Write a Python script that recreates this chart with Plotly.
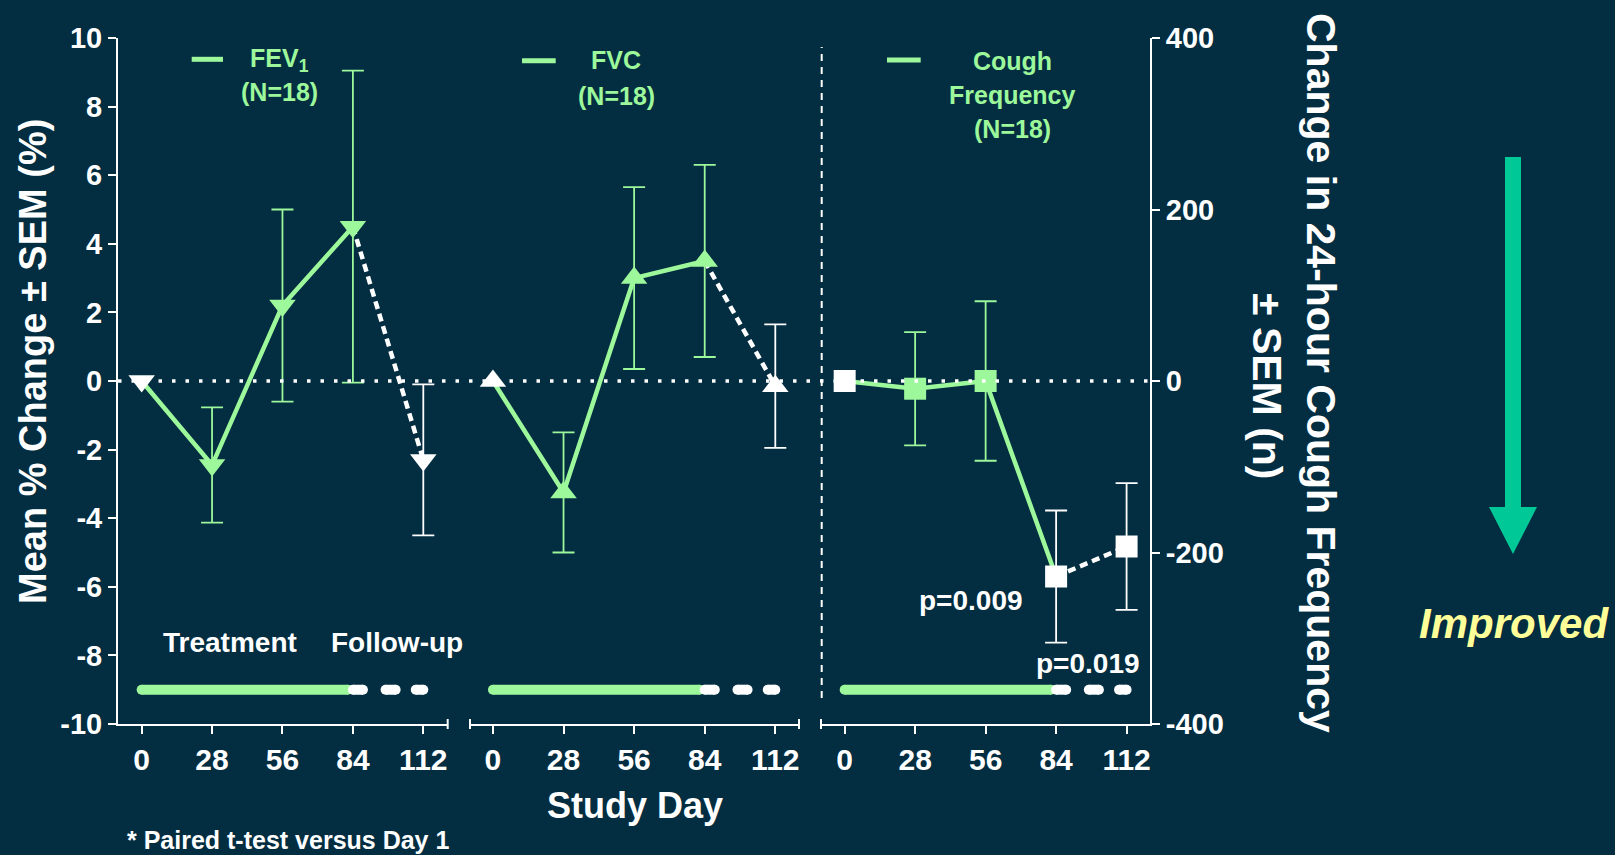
import plotly.graph_objects as go

# Canvas size in pixels (margins are zero, so paper fractions map straight to pixels)
W, H = 1615, 855

# ---- data -------------------------------------------------------------
DAYS = [0, 28, 56, 84, 112]
DAY_TICKS = [0, 28, 56, 84, 112]

FEV1_MEAN = [0.0, -2.45, 2.2, 4.5, -2.3]
FEV1_SEM = [0.0, 1.68, 2.8, 4.55, 2.2]

FVC_MEAN = [0.0, -3.25, 3.0, 3.5, -0.15]
FVC_SEM = [0.0, 1.75, 2.65, 2.8, 1.8]

COUGH_MEAN = [0, -9, 0, -228, -193]
COUGH_SEM = [0, 66, 93, 77, 74]

# days drawn with open (white) markers
FEV1_OPEN_DAYS = [0, 112]
FVC_OPEN_DAYS = [0, 112]
COUGH_OPEN_DAYS = [0, 84, 112]

TREATMENT_END = 84
# study period bar: solid treatment segment and dashed follow-up segments (days)
TREATMENT_BAR = [(0, 82)]
FOLLOWUP_DASHES = [(84, 88), (97, 101), (109, 112)]

PCT_TICKS = [-10, -8, -6, -4, -2, 0, 2, 4, 6, 8, 10]
COUGH_TICKS = [-400, -200, 0, 200, 400]

P_LABELS = ["p=0.009", "p=0.019"]

# ---- styling ----------------------------------------------------------
BG = "#032d40"
GREEN = "#9df89b"
WHITE = "#ffffff"
ARROW = "#00c997"
YELLOW = "#ffff99"
FONT = "Liberation Sans, Arial, sans-serif"


def fx(px):
    return px / W


def fy(py):
    return 1 - py / H


PLOT_TOP, PLOT_BOTTOM = 38, 724
Y_DOMAIN = [fy(PLOT_BOTTOM), fy(PLOT_TOP)]

fig = go.Figure()


def add_series(mean, sem, symbol, open_days, size, xa, ya):
    on = [i for i, d in enumerate(DAYS) if d <= TREATMENT_END]
    off = [i for i, d in enumerate(DAYS) if d >= TREATMENT_END]
    fig.add_trace(go.Scatter(
        x=[DAYS[i] for i in on], y=[mean[i] for i in on], mode="lines",
        line=dict(color=GREEN, width=4.5), xaxis=xa, yaxis=ya, hoverinfo="skip"))
    fig.add_trace(go.Scatter(
        x=[DAYS[i] for i in off], y=[mean[i] for i in off], mode="lines",
        line=dict(color=WHITE, width=4.5, dash="8px,5px"), xaxis=xa, yaxis=ya,
        hoverinfo="skip"))
    for i, d in enumerate(DAYS):
        col = WHITE if d in open_days else GREEN
        err = None
        if sem[i] > 0:
            err = dict(type="data", array=[sem[i]], color=col, thickness=1.8,
                       width=11, visible=True)
        fig.add_trace(go.Scatter(
            x=[d], y=[mean[i]], mode="markers",
            marker=dict(symbol=symbol, size=size, color=col, line=dict(width=0)),
            error_y=err, xaxis=xa, yaxis=ya))


def add_period_bar(yval, xa, ya):
    for seg_list, col in ((TREATMENT_BAR, GREEN), (FOLLOWUP_DASHES, WHITE)):
        xs, ys = [], []
        for a, b in seg_list:
            xs += [a, b, None]
            ys += [yval, yval, None]
        fig.add_trace(go.Scatter(
            x=xs, y=ys, mode="lines+markers",
            line=dict(color=col, width=10),
            marker=dict(symbol="circle", size=10, color=col, line=dict(width=0)),
            xaxis=xa, yaxis=ya, hoverinfo="skip"))


add_period_bar(-9, "x", "y")
add_period_bar(-9, "x2", "y2")
add_period_bar(-360, "x3", "y3")

add_series(FEV1_MEAN, FEV1_SEM, "triangle-down", FEV1_OPEN_DAYS, 23, "x", "y")
add_series(FVC_MEAN, FVC_SEM, "triangle-up", FVC_OPEN_DAYS, 23, "x2", "y2")
add_series(COUGH_MEAN, COUGH_SEM, "square", COUGH_OPEN_DAYS, 22, "x3", "y3")

# ---- axes -------------------------------------------------------------
axis_common = dict(showgrid=False, zeroline=False, showline=True, linecolor=WHITE,
                   linewidth=2, ticks="outside", ticklen=8, tickwidth=2,
                   tickcolor=WHITE, automargin=False)
xtick_font = dict(family=FONT, size=30, color=WHITE, weight="bold")
ytick_font = dict(family=FONT, size=29, color=WHITE, weight="bold")


def xaxis(dom, rng, anchor):
    return dict(domain=[fx(dom[0]), fx(dom[1])], range=rng, anchor=anchor,
                tickmode="array", tickvals=DAY_TICKS,
                ticktext=[str(t) for t in DAY_TICKS], tickfont=xtick_font,
                **axis_common)


fig.update_layout(
    xaxis=xaxis((118, 447.7), [-9.4, 121.7], "y"),
    xaxis2=xaxis((470, 799), [-9.1, 121.4], "y2"),
    xaxis3=xaxis((821, 1150), [-9.4, 121.3], "y3"),
    yaxis=dict(domain=Y_DOMAIN, range=[-10, 10], anchor="x", tickmode="array",
               tickvals=PCT_TICKS, ticktext=[str(t) for t in PCT_TICKS],
               tickfont=ytick_font, **axis_common),
    yaxis2=dict(domain=Y_DOMAIN, range=[-10, 10], anchor="x2", visible=False,
                automargin=False),
    yaxis3=dict(domain=Y_DOMAIN, range=[-400, 400], anchor="x3", side="right",
                tickmode="array", tickvals=COUGH_TICKS,
                ticktext=[str(t) for t in COUGH_TICKS], tickfont=ytick_font,
                **axis_common),
)

# ---- shapes -----------------------------------------------------------
shapes = []
# dotted zero reference line across all panels
shapes.append(dict(type="line", xref="paper", yref="y", x0=fx(118), x1=fx(1150),
                   y0=0, y1=0, line=dict(color=WHITE, width=3.5, dash="3.5px,10px")))
# dashed separator before the cough panel
shapes.append(dict(type="line", xref="paper", yref="paper", x0=fx(821.7), x1=fx(821.7),
                   y0=fy(698), y1=fy(47), line=dict(color=WHITE, width=2, dash="7px,6px")))
# end caps on the broken x axis
for cx in (447.7, 470, 799, 821):
    shapes.append(dict(type="line", xref="paper", yref="paper", x0=fx(cx), x1=fx(cx),
                       y0=fy(PLOT_BOTTOM + 5), y1=fy(PLOT_BOTTOM - 5),
                       line=dict(color=WHITE, width=2)))
# legend swatches
for x0, x1, yy in ((191.7, 223, 59.3), (522, 555.7, 60.7), (887, 920.7, 60)):
    shapes.append(dict(type="line", xref="paper", yref="paper", x0=fx(x0), x1=fx(x1),
                       y0=fy(yy), y1=fy(yy), line=dict(color=GREEN, width=5)))
# "improved" direction arrow
arrow_pts = [(1505, 157), (1521, 157), (1521, 507), (1537, 507), (1513, 554),
             (1489, 507), (1505, 507)]
path = "M " + " L ".join(f"{fx(x):.5f},{fy(y):.5f}" for x, y in arrow_pts) + " Z"
shapes.append(dict(type="path", xref="paper", yref="paper", path=path,
                   fillcolor=ARROW, line=dict(width=0)))
fig.update_layout(shapes=shapes)

# ---- text -------------------------------------------------------------
annotations = []


def text(t, x, y, size, color=WHITE, angle=0, xanchor="center", style="normal"):
    annotations.append(dict(text=t, x=fx(x), y=fy(y), xref="paper", yref="paper",
                            showarrow=False, xanchor=xanchor, yanchor="middle",
                            textangle=angle,
                            font=dict(family=FONT, size=size, color=color,
                                      weight="bold", style=style)))


text("FEV<sub>1</sub>", 279, 60, 25, GREEN)
text("(N=18)", 279, 92, 25, GREEN)
text("FVC", 616, 60, 25, GREEN)
text("(N=18)", 616, 96, 25, GREEN)
text("Cough", 1012, 61, 25, GREEN)
text("Frequency", 1012, 95, 25, GREEN)
text("(N=18)", 1012, 129, 25, GREEN)

text("Treatment", 230, 642, 28)
text("Follow-up", 397, 642, 28)
text(P_LABELS[0], 971, 600, 28)
text(P_LABELS[1], 1088, 663, 28)

text("Study Day", 635, 805, 36)
text("* Paired t-test versus Day 1", 125, 840, 25, xanchor="left")

text("Mean % Change ± SEM (%)", 33, 362, 38, angle=-90)
text("Change in 24-hour Cough Frequency", 1321, 373, 41, angle=90)
text("± SEM (n)", 1267, 386, 41, angle=90)

text("Improved", 1514, 623, 42, YELLOW, style="italic")

fig.update_layout(
    annotations=annotations,
    width=W, height=H, autosize=False,
    margin=dict(l=0, r=0, t=0, b=0, pad=0, autoexpand=False),
    paper_bgcolor=BG, plot_bgcolor=BG,
    showlegend=False,
    font=dict(family=FONT, color=WHITE),
)

fig.write_html("out.html")
